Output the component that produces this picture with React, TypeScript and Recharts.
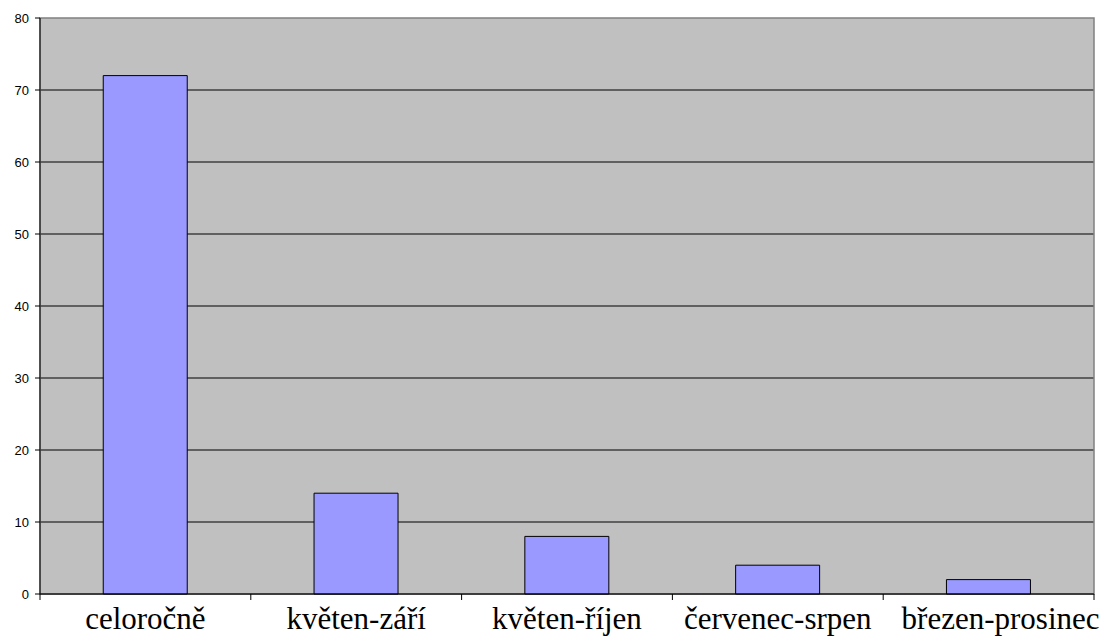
import { BarChart, Bar, XAxis, YAxis, CartesianGrid, ReferenceArea } from "recharts";

const categories = ["celoročně", "květen-září", "květen-říjen", "červenec-srpen", "březen-prosinec"];
const values = [72, 14, 8, 4, 2];
const yTicks = [0, 10, 20, 30, 40, 50, 60, 70, 80];

const data = categories.map((name, i) => ({ name, value: values[i] }));

const CategoryTick = (props: any) => {
  const { x, y, payload, index, visibleTicksCount } = props;
  const half = payload.offset ?? 0;
  const axisY = y - 8;
  const last = index === visibleTicksCount - 1;
  return (
    <g>
      <line x1={x - half} y1={axisY} x2={x - half} y2={axisY + 6} stroke="#000" />
      {last && <line x1={x + half} y1={axisY} x2={x + half} y2={axisY + 6} stroke="#000" />}
      <text
        x={last ? x + 12 : x}
        y={axisY + 35}
        textAnchor="middle"
        fontFamily="'Liberation Serif', 'Times New Roman', serif"
        fontSize={31}
        fill="#000"
      >
        {payload.value}
      </text>
    </g>
  );
};

export default function App() {
  return (
    <div style={{ position: "absolute", left: 0, top: 0, width: 1106, height: 636, background: "#fff" }}>
      <BarChart
        width={1106}
        height={636}
        data={data}
        margin={{ top: 18, right: 12, bottom: 0, left: 0 }}
        barCategoryGap="30%"
      >
        <CartesianGrid
          vertical={false}
          horizontalValues={yTicks.filter((t) => t !== 80)}
          stroke="#000"
          fill="#C0C0C0"
        />
        <ReferenceArea y1={0} y2={80} fill="none" stroke="#808080" strokeWidth={1.5} ifOverflow="extendDomain" />
        <XAxis
          dataKey="name"
          interval={0}
          height={42}
          axisLine={{ stroke: "#000" }}
          tickLine={false}
          tickSize={6}
          tickMargin={2}
          tick={<CategoryTick />}
        />
        <YAxis
          domain={[0, 80]}
          ticks={yTicks}
          width={40}
          axisLine={{ stroke: "#000" }}
          tickLine={{ stroke: "#000" }}
          tickSize={5}
          tickMargin={6}
          tick={{ fill: "#000", fontSize: 13, fontFamily: "Arial, 'Liberation Sans', sans-serif" }}
        />
        <Bar dataKey="value" fill="#9999FF" stroke="#000" strokeWidth={1} isAnimationActive={false} />
      </BarChart>
    </div>
  );
}
